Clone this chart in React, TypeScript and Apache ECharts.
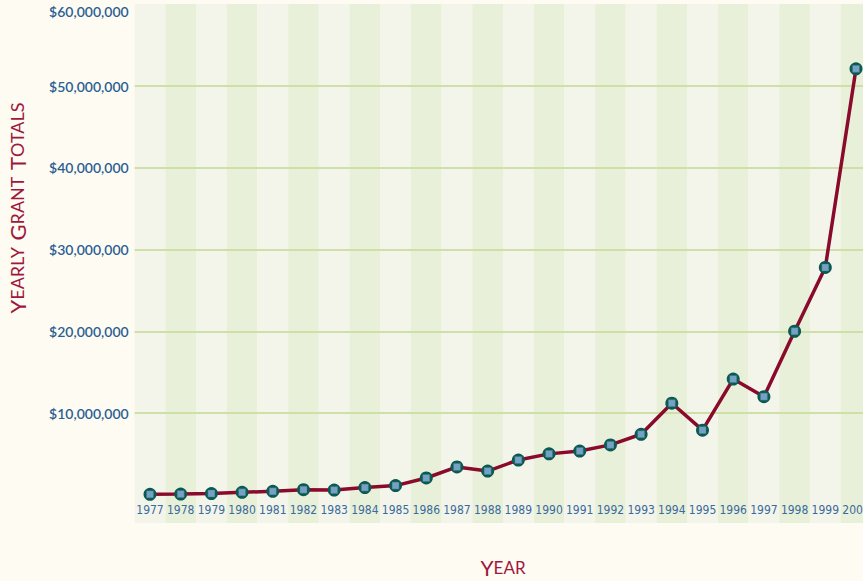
import React, { useEffect, useRef } from "react";
import * as echarts from "echarts";

const years = ["1977","1978","1979","1980","1981","1982","1983","1984","1985","1986","1987","1988","1989","1990","1991","1992","1993","1994","1995","1996","1997","1998","1999","2000"];
const grantTotals = [50000,80000,150000,300000,420000,620000,570000,880000,1120000,2050000,3400000,2900000,4250000,5000000,5350000,6100000,7400000,11200000,7900000,14150000,12000000,20000000,27800000,52100000];

const GL = 134.65;
const GW = 736.7;

export default function App() {
  const ref = useRef<HTMLDivElement>(null);
  useEffect(() => {
    if (!ref.current) return;
    const chart = echarts.init(ref.current, undefined, { renderer: "svg" });
    const font = "Lato, 'Open Sans', sans-serif";
    chart.setOption({
      animation: false,
      backgroundColor: "#fdfbf2",
      grid: [
        { left: GL, width: GW, top: 4, height: 519, outerBoundsMode: "none", containLabel: false },
        { left: GL, width: GW, top: 4.25, height: 490.5, outerBoundsMode: "none", containLabel: false },
      ],
      xAxis: [
        {
          type: "category",
          gridIndex: 0,
          data: years,
          z: 0,
          axisLine: { show: false },
          axisTick: { show: false, interval: 0 },
          axisLabel: { show: false, interval: 0 },
          splitLine: { show: false },
          splitArea: { show: true, interval: 0, areaStyle: { color: ["#f3f5ea", "#e8f0da"] } },
        },
        {
          type: "category",
          gridIndex: 1,
          data: years,
          z: 2,
          axisLine: { show: false },
          axisTick: { show: false },
          axisLabel: {
            color: "#3b6a9c",
            fontSize: 12,
            margin: 9,
            interval: 0,
            fontFamily: "'Liberation Sans Narrow', 'DejaVu Sans Condensed', Lato, sans-serif",
          },
          name: "{b|Y}{s|EAR}",
          nameLocation: "middle",
          nameGap: 62,
          nameTextStyle: {
            rich: {
              b: { fontSize: 21, color: "#a0173d", fontFamily: font },
              s: { fontSize: 17, color: "#a0173d", fontFamily: font },
            },
          },
        },
      ],
      yAxis: [
        { type: "value", gridIndex: 0, show: false, min: 0, max: 1 },
        {
          type: "value",
          gridIndex: 1,
          min: 0,
          max: 60000000,
          interval: 10000000,
          z: 2,
          axisLine: { show: false },
          axisTick: { show: false },
          axisLabel: {
            color: "#2c5f93",
            fontSize: 14,
            fontWeight: 600,
            fontFamily: font,
            margin: 6,
            showMinLabel: false,
            verticalAlignMaxLabel: "top",
            formatter: (v: number) => "$" + v.toLocaleString("en-US"),
          },
          splitLine: {
            show: true,
            showMinLine: false,
            showMaxLine: false,
            lineStyle: { color: "#cfe0a6", width: 2 },
          },
        },
      ],
      graphic: [
        {
          type: "text",
          x: 17,
          y: 208,
          rotation: Math.PI / 2,
          style: {
            text: "{b|Y}{s|EARLY}  {b|G}{s|RANT}  {b|T}{s|OTALS}",
            align: "center",
            verticalAlign: "middle",
            fill: "#a0173d",
            rich: {
              b: { fontSize: 22, fill: "#a0173d", fontFamily: font },
              s: { fontSize: 18, fill: "#a0173d", fontFamily: font },
            },
          },
        },
      ],
      series: [
        {
          type: "line",
          xAxisIndex: 1,
          yAxisIndex: 1,
          data: grantTotals,
          lineStyle: { color: "#8a0a2c", width: 3.5 },
          symbol: "circle",
          symbolSize: 13,
          itemStyle: { color: "#0b5a50", borderWidth: 0 },
          z: 3,
        },
        {
          type: "scatter",
          xAxisIndex: 1,
          yAxisIndex: 1,
          data: grantTotals,
          symbol: "rect",
          symbolSize: 7,
          itemStyle: { color: "#8fb4de", borderColor: "#3e6f8c", borderWidth: 0.5 },
          z: 4,
        },
      ],
    });
    return () => chart.dispose();
  }, []);
  return (
    <div
      ref={ref}
      style={{ position: "fixed", left: 0, top: 0, width: 863, height: 581 }}
    />
  );
}
